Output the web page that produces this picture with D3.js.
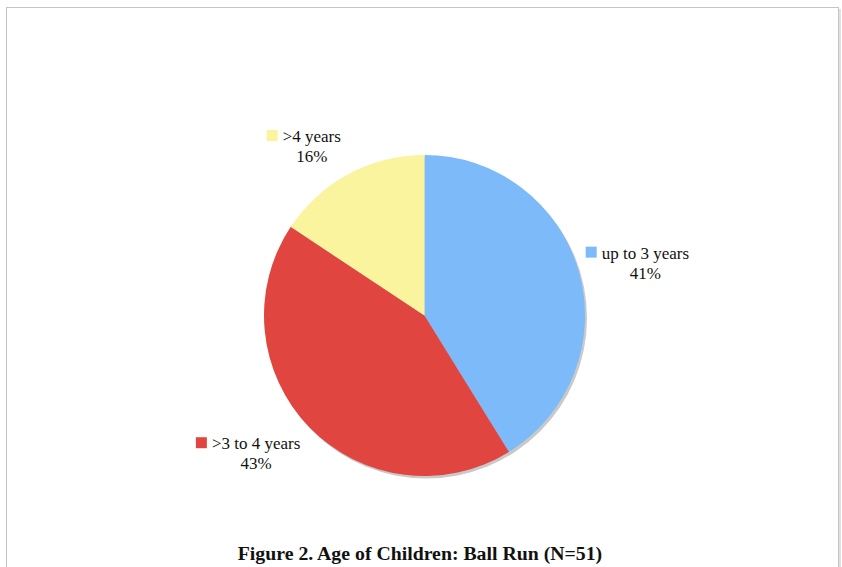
<!DOCTYPE html>
<html lang="en">
<head>
  <meta charset="UTF-8">
  <title>Age of Children: Ball Run</title>
  <style>
    body {
      margin: 0;
      background-color: #fff;
      font-family: "Liberation Serif", "Times New Roman", serif;
    }
    svg {
      display: block;
    }
  </style>
  <script src="https://d3js.org/d3.v7.min.js"></script>
</head>
<body>
  <div id="chart"></div>

  <script>
    // Data (N=51), clockwise from 12 o'clock
    const categories = ['up to 3 years', '>3 to 4 years', '>4 years'];
    const counts = [21, 22, 8];
    const percentLabels = ['41%', '43%', '16%'];
    const colors = ['#7cbafa', '#e0463f', '#faf49e'];

    const width = 842;
    const height = 567;
    const cx = 424.5;
    const cy = 315.5;
    const radius = 160.5;

    // small hand tweaks for label boxes, relative to the centroid spot
    const labelNudge = {
      'up to 3 years': [6, 8],
      '>3 to 4 years': [-22, -10],
      '>4 years': [-19, 22]
    };

    const svg = d3.select('#chart')
      .append('svg')
      .attr('width', width)
      .attr('height', height);

    // Chart frame
    svg.append('rect')
      .attr('x', 839)
      .attr('y', 9)
      .attr('width', 2)
      .attr('height', height)
      .attr('fill', '#e2e2e2');
    svg.append('rect')
      .attr('x', 6.5)
      .attr('y', 7.5)
      .attr('width', 832)
      .attr('height', height)
      .attr('fill', '#fff')
      .attr('stroke', '#c4c4c4')
      .attr('stroke-width', 1);

    const data = categories.map((c, i) => ({
      category: c,
      count: counts[i],
      label: percentLabels[i],
      color: colors[i]
    }));

    const pie = d3.pie()
      .sort(null)
      .value(d => d.count);

    const arc = d3.arc()
      .innerRadius(0)
      .outerRadius(radius);

    const labelArc = d3.arc()
      .innerRadius(radius * 1.34)
      .outerRadius(radius * 1.34);

    const g = svg.append('g')
      .attr('transform', `translate(${cx},${cy})`);

    // drop shadow
    g.append('circle')
      .attr('cx', 2)
      .attr('cy', 2.5)
      .attr('r', radius)
      .attr('fill', '#c9c9c9');

    const arcs = pie(data);

    g.selectAll('path.slice')
      .data(arcs)
      .enter()
      .append('path')
      .attr('class', 'slice')
      .attr('d', arc)
      .attr('fill', d => d.data.color);

    // Labels: marker + category, percentage centered below
    const labels = g.selectAll('g.label')
      .data(arcs)
      .enter()
      .append('g')
      .attr('class', 'label')
      .attr('transform', d => {
        const [x, y] = labelArc.centroid(d);
        const n = labelNudge[d.data.category];
        return `translate(${x + n[0]},${y + n[1]})`;
      });

    labels.each(function (d) {
      const el = d3.select(this);
      const t1 = el.append('text')
        .attr('y', -6)
        .attr('font-size', 17)
        .attr('fill', '#111')
        .text(d.data.category);
      const w = t1.node().getComputedTextLength();
      const total = 11 + 5 + w;
      const x0 = -total / 2;
      el.append('rect')
        .attr('x', x0)
        .attr('y', -18)
        .attr('width', 11)
        .attr('height', 11)
        .attr('fill', d.data.color);
      t1.attr('x', x0 + 16);
      el.append('text')
        .attr('x', x0 + 16 + w / 2)
        .attr('y', 14)
        .attr('text-anchor', 'middle')
        .attr('font-size', 17)
        .attr('fill', '#111')
        .text(d.data.label);
    });

    // Caption
    svg.append('text')
      .attr('x', 420)
      .attr('y', 560)
      .attr('text-anchor', 'middle')
      .attr('font-size', 19.8)
      .attr('font-weight', 'bold')
      .attr('fill', '#111')
      .text('Figure 2. Age of Children: Ball Run (N=51)');
  </script>
</body>
</html>
